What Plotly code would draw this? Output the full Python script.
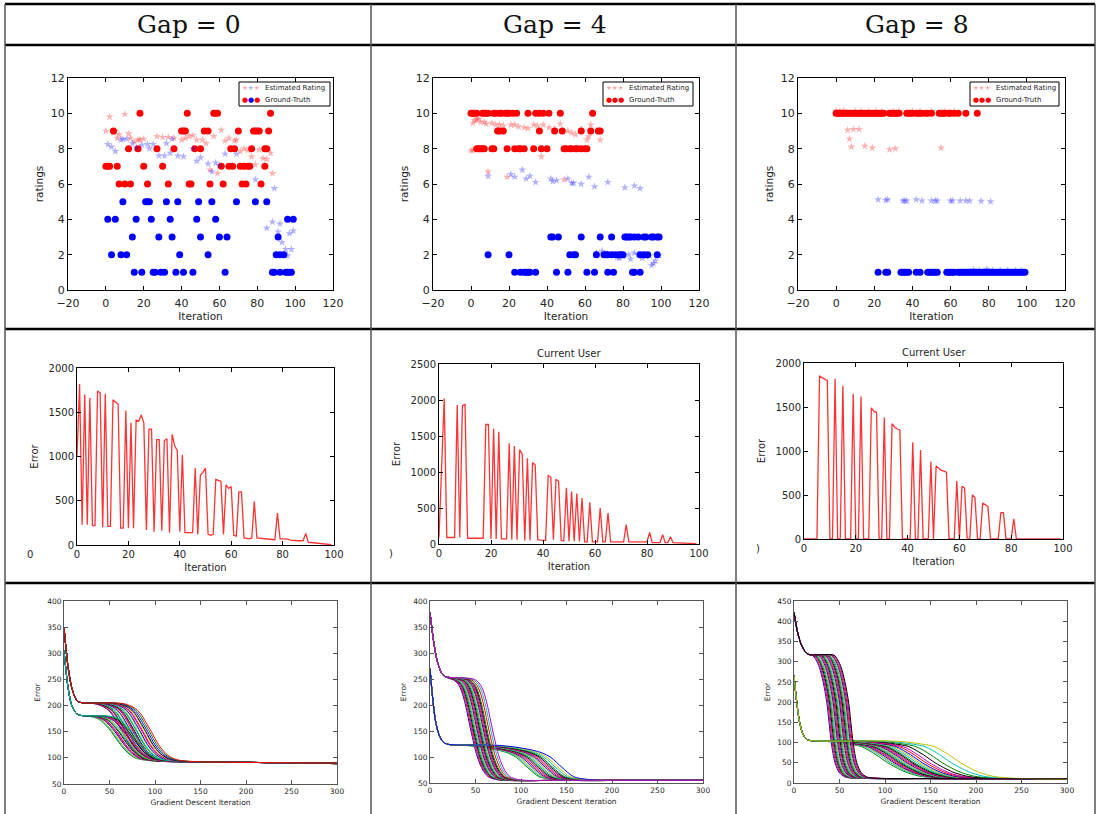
import plotly.graph_objects as go

W, H = 1097, 814

# ---------------- header ----------------
headers = ["Gap = 0", "Gap = 4", "Gap = 8"]

# ---------------- row 1 : ratings scatter ----------------
# ground truth, grouped by rating value -> iteration numbers
gt_hi_g0 = {7: [0, 1, 2, 6, 20, 30, 61, 65, 67, 71, 73, 75, 76, 84],
            8: [12, 17, 27, 36, 47, 50, 66, 68, 77, 84, 85],
            9: [4, 40, 41, 42, 52, 54, 70, 78, 79, 80, 81, 86],
            10: [18, 43, 57, 58, 59, 87],
            6: [7, 10, 13, 22, 33, 44, 45, 55, 62, 72, 74, 82]}
gt_lo_g0 = {5: [9, 21, 22, 23, 32, 38, 49, 56, 69, 79, 85],
            4: [1, 5, 16, 24, 34, 48, 58, 96, 99],
            3: [14, 28, 35, 50, 60, 64, 91],
            2: [3, 8, 11, 39, 54, 90, 92, 94],
            1: [15, 19, 25, 26, 29, 31, 37, 41, 46, 63, 88, 89, 92, 95, 96, 97, 98]}
est_hi_g0 = [(0, 9.0), (2, 9.8), (5, 9.0), (7, 8.8), (10, 9.95), (12, 8.85), (13, 8.6), (17, 8.5),
             (18, 8.5), (20, 8.55), (27, 8.7), (30, 8.65), (33, 8.65), (36, 8.6), (40, 8.5), (42, 8.6),
             (44, 8.7), (46, 8.75), (48, 8.5), (51, 8.5), (53, 8.3), (55, 6.8), (57, 8.7), (59, 6.6),
             (61, 9.05), (63, 8.45), (65, 8.6), (68, 8.45), (69, 8.5), (71, 7.85), (73, 8.0), (75, 7.9),
             (77, 7.55), (79, 7.1), (81, 7.95), (83, 7.45), (85, 7.4), (87, 7.75), (88, 6.6),
             (4, 8.9), (6, 8.6), (15, 8.4)]
est_lo_g0 = [(1, 8.25), (3, 8.1), (5, 7.85), (8, 8.5), (9, 8.55), (11, 8.55), (14, 8.3), (16, 8.05),
             (19, 8.2), (22, 8.25), (23, 8.0), (25, 8.25), (28, 7.6), (31, 7.6), (32, 8.3), (34, 7.75),
             (35, 8.55), (38, 7.6), (41, 7.55), (46, 8.0), (48, 7.3), (50, 7.5), (54, 7.15), (56, 6.7),
             (58, 7.2), (60, 7.05), (63, 7.7), (69, 7.7), (79, 6.25), (85, 3.5), (88, 3.85), (89, 5.75),
             (91, 3.3), (92, 3.75), (93, 2.7), (95, 2.3), (96, 1.95), (97, 3.2), (98, 2.3), (99, 3.35)]

gt_hi_g4 = {10: [0, 1, 2, 3, 6, 7, 8, 9, 12, 13, 15, 16, 18, 19, 20, 22, 24, 30, 34, 36, 38, 41, 47, 64],
            9: [14, 15, 17, 36, 44, 48, 58, 63, 67, 68],
            8: [3, 4, 5, 6, 7, 11, 12, 19, 23, 25, 26, 28, 33, 37, 40, 49, 50, 52, 53, 55, 56, 58, 60, 61]}
gt_lo_g4 = {3: [42, 43, 46, 58, 68, 74, 81, 82, 83, 84, 86, 88, 91, 92, 95, 96, 98, 99],
            2: [9, 20, 52, 54, 55, 66, 70, 71, 72, 74, 76, 78, 79, 80, 89, 91, 93, 98],
            1: [23, 26, 28, 29, 30, 31, 34, 45, 51, 61, 65, 72, 75, 85, 86, 89]}
est_hi_g4 = [(0, 7.9), (1, 7.9), (1, 9.45), (3, 9.65), (4, 9.7), (5, 9.5), (8, 9.4), (9, 6.7),
             (11, 9.45), (13, 9.35), (15, 9.35), (17, 9.3), (19, 6.4), (21, 9.35), (23, 9.35), (25, 9.25),
             (28, 9.2), (30, 9.15), (33, 9.35), (35, 9.3), (37, 7.55), (38, 9.35), (41, 9.2), (44, 9.1),
             (47, 9.4), (49, 6.25), (51, 9.0), (53, 8.9), (55, 8.8), (58, 9.1), (61, 8.5), (62, 8.7),
             (63, 9.35), (68, 8.5), (2, 9.6), (7, 9.5)]
est_lo_g4 = [(9, 6.45), (21, 6.55), (23, 6.4), (27, 6.8), (29, 6.3), (31, 6.45), (34, 6.1), (42, 6.3),
             (43, 6.15), (45, 6.2), (51, 6.3), (53, 6.05), (54, 6.05), (58, 6.0), (62, 6.4), (65, 5.85),
             (72, 6.1), (81, 5.8), (86, 5.9), (89, 5.75),
             (66, 2.1), (69, 2.2), (72, 2.05), (75, 2.0), (77, 1.85), (78, 1.8), (80, 1.9), (83, 2.0),
             (84, 1.75), (86, 2.1), (88, 2.0), (90, 1.8), (92, 1.9), (94, 1.95), (95, 1.4), (96, 1.5),
             (97, 1.65), (99, 1.95)]

gt_hi_g8 = {10: [0, 1, 2, 3, 4, 5, 6, 7, 8, 9, 10, 11, 12, 13, 14, 15, 16, 17, 18, 19, 20, 21, 22, 23,
                 24, 25, 28, 29, 30, 31, 32, 33, 37, 38, 39, 40, 42, 43, 44, 45, 47, 48, 50,
                 54, 55, 56, 57, 59, 60, 62, 64, 68, 74]}
gt_lo_g8 = {1: [22, 26, 27, 34, 35, 36, 37, 38, 42, 44, 48, 49, 50, 51, 52, 53, 58, 59, 60, 61, 62,
                64, 65, 66, 67, 68, 69, 70, 71, 72, 73, 74, 75, 76, 77, 78, 79, 80, 81, 82, 83, 84,
                85, 86, 87, 88, 89, 90, 91, 92, 93, 94, 95, 96, 97, 98, 99]}
est_hi_g8 = [(0, 10.15), (2, 10.12), (4, 10.15), (10, 10.1), (13, 10.12), (17, 10.1), (21, 10.12),
             (24, 10.1), (30, 10.1), (33, 10.12), (40, 10.1), (44, 10.1), (50, 10.1), (57, 10.1),
             (62, 10.1), (6, 9.05), (7, 8.55), (8, 8.1), (9, 9.1), (12, 9.1), (15, 8.15), (19, 8.05),
             (28, 7.95), (31, 8.0), (55, 8.05)]
est_lo_g8 = [(22, 5.12), (26, 5.08), (27, 5.12), (35, 5.05), (36, 5.05), (37, 5.05), (42, 5.12),
             (45, 5.05), (50, 5.05), (52, 5.05), (53, 5.05), (60, 5.05), (61, 5.05), (65, 5.05),
             (68, 5.05), (70, 5.05), (76, 5.03), (81, 5.0),
             (72, 1.15), (75, 1.1), (79, 1.18), (82, 1.12), (86, 1.1), (90, 1.12), (94, 1.1), (97, 1.1)]

# ---------------- row 2 : error per iteration ----------------
iterations = list(range(100))
err_g0 = [1000, 1820, 230, 1700, 230, 1660, 220, 220, 1740, 1720,
          200, 1710, 210, 210, 1640, 1620, 1590, 190, 190, 1520,
          190, 1380, 190, 1410, 1400, 1470, 1380, 170, 1310, 1310,
          150, 1190, 1190, 160, 1180, 1200, 140, 1250, 1120, 1070,
          150, 1020, 140, 140, 140, 140, 870, 120, 790, 820,
          870, 120, 110, 120, 740, 730, 720, 120, 680, 640,
          660, 110, 100, 600, 600, 80, 75, 70, 80, 490,
          80, 75, 72, 70, 68, 65, 62, 60, 360, 70,
          70, 68, 66, 55, 50, 50, 48, 48, 50, 130,
          30, 28, 25, 22, 20, 18, 15, 12, 8, 3]
err_g4 = [90, 1200, 2020, 90, 90, 90, 90, 1930, 90, 1920,
          1940, 80, 80, 80, 80, 80, 80, 80, 1660, 1660,
          70, 1600, 70, 1560, 70, 70, 70, 1400, 60, 1360,
          60, 1310, 1250, 50, 1190, 50, 1130, 1100, 60, 55,
          55, 50, 950, 930, 60, 900, 870, 50, 45, 780,
          40, 730, 40, 700, 40, 640, 30, 30, 580, 30,
          30, 30, 500, 30, 30, 430, 30, 30, 30, 30,
          30, 30, 270, 30, 30, 30, 30, 30, 30, 30,
          30, 160, 20, 20, 20, 20, 130, 20, 20, 100,
          20, 18, 16, 14, 12, 10, 9, 8, 6, 5]
err_g8 = [0, 0, 0, 0, 0, 0, 1850, 1830, 1815, 1800,
          0, 0, 1820, 0, 0, 1740, 0, 0, 0, 1650,
          0, 0, 1620, 0, 0, 0, 1490, 1450, 1440, 0,
          0, 1380, 0, 0, 1310, 1270, 1250, 1240, 0, 0,
          0, 0, 1100, 0, 0, 1010, 0, 0, 0, 880,
          0, 830, 800, 780, 770, 760, 0, 0, 0, 660,
          0, 600, 580, 0, 0, 500, 470, 0, 0, 410,
          390, 370, 0, 0, 0, 0, 300, 300, 0, 0,
          0, 230, 0, 0, 0, 0, 0, 0, 0, 0,
          0, 0, 0, 0, 0, 0, 0, 0, 0, 0]

# ---------------- row 3 : gradient-descent curves ----------------
# each family: fixed head knots, body knots (earliest curve) that are delayed per curve, fixed tail
gd_g0_up_head = [(0, 350), (4, 280), (8, 238), (12, 216), (16, 207)]
gd_g0_up_body = [(25, 205), (35, 203), (45, 196), (52, 185), (58, 168), (64, 150), (72, 125),
                 (80, 108), (88, 99), (96, 95), (110, 93)]
gd_g0_up_tail = [(160, 92), (220, 91), (300, 90)]
gd_g0_up_delay = [0, 1, 3, 4, 6, 7, 9, 10, 12, 13, 14, 16, 17, 19, 20, 22, 23, 25, 26, 28, 30, 32]
gd_g0_lo_head = [(0, 306), (4, 240), (8, 203), (12, 188), (16, 182)]
gd_g0_lo_body = [(25, 180), (32, 178), (40, 172), (46, 162), (52, 150), (60, 130), (68, 113),
                 (78, 100), (88, 96), (100, 94)]
gd_g0_lo_tail = [(160, 92), (220, 91), (300, 89)]
gd_g0_lo_delay = [0, 1, 2, 4, 5, 6, 8, 9, 11, 12, 14, 15, 17, 19, 21, 23]

gd_g4_up_head = [(0, 378), (4, 322), (8, 284), (12, 264), (16, 255)]
gd_g4_up_body = [(21, 251), (26, 248), (31, 240), (35, 225), (39, 200), (45, 150), (52, 100),
                 (58, 75), (64, 62), (72, 57), (82, 55)]
gd_g4_up_tail = [(140, 55), (220, 55), (300, 55)]
gd_g4_up_delay = [0, 1, 2, 3, 4, 5, 6, 7, 8, 9, 10, 11, 12, 13, 14, 15, 16, 17, 18, 20, 22, 24]
gd_g4_lo_head = [(0, 270), (3, 212), (6, 170), (10, 142), (14, 130), (18, 125)]
gd_g4_lo_body = [(25, 123), (40, 122), (60, 118), (75, 113), (85, 108), (95, 99), (107, 80),
                 (120, 62), (135, 57), (150, 55)]
gd_g4_lo_tail = [(220, 55), (300, 55)]
gd_g4_lo_delay = [0, 2, 4, 6, 8, 10, 12, 14, 16, 18, 20, 22, 24, 26, 28, 31, 34, 38]

gd_g8_up_head = [(0, 422), (4, 372), (8, 342), (12, 326), (16, 318)]
gd_g8_up_body = [(20, 316), (24, 305), (28, 285), (32, 250), (36, 200), (41, 100), (45, 50),
                 (50, 25), (56, 15), (65, 12)]
gd_g8_up_tail = [(150, 11), (300, 10)]
gd_g8_up_delay = [0, 1, 2, 3, 4, 5, 6, 7, 8, 9, 10, 11, 12, 13, 14, 15, 16, 17, 18, 19, 20, 21, 22, 23, 24]
gd_g8_lo_head = [(0, 265), (3, 200), (6, 152), (10, 120), (14, 108), (18, 105)]
gd_g8_lo_body = [(24, 104), (40, 102), (55, 98), (74, 90), (90, 70), (103, 50), (115, 35),
                 (125, 25), (140, 16), (160, 12), (180, 11)]
gd_g8_lo_tail = [(270, 10), (300, 9)]
gd_g8_lo_delay = [0, 3, 5, 7, 9, 11, 13, 15, 17, 19, 21, 23, 25, 27, 29, 32, 35, 38, 42, 46, 52, 60, 70, 80]

mpl_cycle = ["#0000ff", "#008000", "#ff0000", "#00bfbf", "#bf00bf", "#bfbf00", "#000000"]

# ---------------- geometry (pixels) ----------------
AX = {1: (68, 333, 78, 290), 2: (433, 699, 78, 290), 3: (798, 1065, 78, 290),
      4: (77, 334, 368, 545), 5: (439, 699, 364, 544), 6: (804, 1063, 363, 539),
      7: (64, 337, 601, 784), 8: (430, 703, 601, 783), 9: (794, 1067, 601, 783)}
LEG = {1: (239, 82, 330, 106), 2: (603, 82, 693, 106), 3: (970, 82, 1059, 106)}

TXT = "#262626"


def px(x):
    return x / W


def py(y):
    return 1 - y / H


def xa(i):
    return "x" if i == 1 else f"x{i}"


def ya(i):
    return "y" if i == 1 else f"y{i}"


def flat(groups):
    xs, ys = [], []
    for v, lst in groups.items():
        xs += lst
        ys += [v] * len(lst)
    return xs, ys


fig = go.Figure()

# ---- row 1 traces ----
row1 = [(gt_hi_g0, gt_lo_g0, est_hi_g0, est_lo_g0),
        (gt_hi_g4, gt_lo_g4, est_hi_g4, est_lo_g4),
        (gt_hi_g8, gt_lo_g8, est_hi_g8, est_lo_g8)]
for k, (ghi, glo, ehi, elo) in enumerate(row1):
    i = k + 1
    for grp, col in ((ghi, "#ff0000"), (glo, "#0000ff")):
        gx, gy = flat(grp)
        fig.add_trace(go.Scatter(x=gx, y=gy, xaxis=xa(i), yaxis=ya(i), mode="markers",
                                 marker=dict(symbol="circle", size=7, color=col, line=dict(width=0)),
                                 showlegend=False, hoverinfo="skip"))
    for pts, col in ((ehi, "rgba(255,0,0,0.3)"), (elo, "rgba(0,0,255,0.3)")):
        fig.add_trace(go.Scatter(x=[p[0] for p in pts], y=[p[1] for p in pts], xaxis=xa(i), yaxis=ya(i),
                                 mode="markers",
                                 marker=dict(symbol="star", size=6, color=col, line=dict(width=0)),
                                 showlegend=False, hoverinfo="skip"))

# ---- row 2 traces ----
for k, err in enumerate([err_g0, err_g4, err_g8]):
    i = k + 4
    fig.add_trace(go.Scatter(x=iterations, y=err, xaxis=xa(i), yaxis=ya(i), mode="lines",
                             line=dict(color="rgba(255,0,0,0.8)", width=1.3),
                             showlegend=False, hoverinfo="skip"))

# ---- row 3 traces ----
row3 = [((gd_g0_up_head, gd_g0_up_body, gd_g0_up_tail, gd_g0_up_delay),
         (gd_g0_lo_head, gd_g0_lo_body, gd_g0_lo_tail, gd_g0_lo_delay)),
        ((gd_g4_up_head, gd_g4_up_body, gd_g4_up_tail, gd_g4_up_delay),
         (gd_g4_lo_head, gd_g4_lo_body, gd_g4_lo_tail, gd_g4_lo_delay)),
        ((gd_g8_up_head, gd_g8_up_body, gd_g8_up_tail, gd_g8_up_delay),
         (gd_g8_lo_head, gd_g8_lo_body, gd_g8_lo_tail, gd_g8_lo_delay))]


def curve(head, body, tail, d):
    pts = list(head) + [(x + d, y) for x, y in body] + list(tail)
    return [p[0] for p in pts], [p[1] for p in pts]


for k, (up, lo) in enumerate(row3):
    i = k + 7
    n = max(len(up[3]), len(lo[3]))
    c = 0
    for j in range(n):
        for fam in (up, lo):
            if j < len(fam[3]):
                cx, cy = curve(fam[0], fam[1], fam[2], fam[3][j])
                fig.add_trace(go.Scatter(x=cx, y=cy, xaxis=xa(i), yaxis=ya(i), mode="lines",
                                         line=dict(color=mpl_cycle[c % 7], width=1, shape="spline",
                                                   smoothing=0.8),
                                         showlegend=False, hoverinfo="skip"))
                c += 1

# ---------------- axes ----------------
layout = {}
axis_spec = {
    1: dict(xr=[-20, 120], xd=20, yr=[0, 12], yd=2, xt="Iteration", yt="ratings"),
    2: dict(xr=[-20, 120], xd=20, yr=[0, 12], yd=2, xt="Iteration", yt="ratings"),
    3: dict(xr=[-20, 120], xd=20, yr=[0, 12], yd=2, xt="Iteration", yt="ratings"),
    4: dict(xr=[0, 100], xd=20, yr=[0, 2000], yd=500, xt="Iteration", yt="Error"),
    5: dict(xr=[0, 100], xd=20, yr=[0, 2500], yd=500, xt="Iteration", yt="Error"),
    6: dict(xr=[0, 100], xd=20, yr=[0, 2000], yd=500, xt="Iteration", yt="Error"),
    7: dict(xr=[0, 300], xd=50, yr=[50, 400], yd=50, xt="Gradient Descent Iteration", yt="Error"),
    8: dict(xr=[0, 300], xd=50, yr=[50, 400], yd=50, xt="Gradient Descent Iteration", yt="Error"),
    9: dict(xr=[0, 300], xd=50, yr=[0, 450], yd=50, xt="Gradient Descent Iteration", yt="Error"),
}
for i, (x0, x1, y0, y1) in AX.items():
    sp = axis_spec[i]
    if i <= 3:
        tf, ttf, lc, xs, ys, xls = 11, 10.5, "#000000", 0, 5, 3
    elif i <= 6:
        tf, ttf, lc, xs, ys, xls = 10, 10, "#000000", 4, 8, 0
    else:
        tf, ttf, lc, xs, ys, xls = 7.5, 7.5, "#555555", 4, 5, 0
    common = dict(showline=True, linecolor=lc, linewidth=1, mirror="ticks", ticks="inside",
                  ticklen=4, tickwidth=1, tickcolor=lc, showgrid=False, zeroline=False,
                  automargin=False,
                  tickfont=dict(size=tf, color=TXT, family="DejaVu Sans"), fixedrange=True)
    sfx = "" if i == 1 else str(i)
    layout["xaxis" + sfx] = dict(domain=[px(x0), px(x1)], anchor=ya(i), range=sp["xr"], dtick=sp["xd"],
                                 tick0=0, ticklabelstandoff=xls,
                                 title=dict(text=sp["xt"], standoff=xs,
                                            font=dict(size=ttf, color=TXT, family="DejaVu Sans")),
                                 **common)
    layout["yaxis" + sfx] = dict(domain=[py(y1), py(y0)], anchor=xa(i), range=sp["yr"], dtick=sp["yd"],
                                 tick0=0,
                                 title=dict(text=sp["yt"], standoff=ys,
                                            font=dict(size=ttf, color=TXT, family="DejaVu Sans")),
                                 **common)

# ---------------- table lines ----------------
shapes = []
for yy in (4, 45, 329, 583):
    shapes.append(dict(type="line", xref="paper", yref="paper", x0=px(5), x1=px(1095),
                       y0=py(yy), y1=py(yy), line=dict(color="#000000", width=2.5)))
for xx in (5, 371, 736, 1095):
    shapes.append(dict(type="line", xref="paper", yref="paper", x0=px(xx), x1=px(xx),
                       y0=py(4), y1=py(814), line=dict(color="#555555", width=1.5)))

annotations = []
for k, h in enumerate(headers):
    cx = [(5 + 371) / 2, (371 + 736) / 2, (736 + 1095) / 2][k]
    annotations.append(dict(text=h, xref="paper", yref="paper", x=px(cx + 1), y=py(24),
                            xanchor="center", yanchor="middle", showarrow=False,
                            font=dict(family="DejaVu Serif", size=25, color="#111111")))

# ---------------- row-1 legends (drawn as boxes with text) ----------------
star_rows = {1: ["rgba(255,0,0,0.35)", "rgba(0,0,255,0.35)", "rgba(255,0,0,0.35)"],
             2: ["rgba(255,0,0,0.35)"] * 3, 3: ["rgba(255,0,0,0.35)"] * 3}
dot_rows = {1: ["#ff0000", "#0000ff", "#ff0000"], 2: ["#ff0000"] * 3, 3: ["#ff0000"] * 3}
for i, (bx0, by0, bx1, by1) in LEG.items():
    shapes.append(dict(type="rect", xref="paper", yref="paper", x0=px(bx0), x1=px(bx1),
                       y0=py(by1), y1=py(by0), line=dict(color="#000000", width=1),
                       fillcolor="white", layer="above"))
    stars = "".join(f'<span style="color:{c}">★</span>' for c in star_rows[i])
    dots = "".join(f'<span style="color:{c}">●</span>' for c in dot_rows[i])
    annotations.append(dict(text=stars, xref="paper", yref="paper", x=px(bx0 + 1), y=py(by0 + 6.5),
                            xanchor="left", yanchor="middle", showarrow=False,
                            font=dict(size=6.5, family="DejaVu Sans")))
    annotations.append(dict(text=dots, xref="paper", yref="paper", x=px(bx0 + 1), y=py(by0 + 17.5),
                            xanchor="left", yanchor="middle", showarrow=False,
                            font=dict(size=7, family="DejaVu Sans")))
    annotations.append(dict(text="Estimated Rating", xref="paper", yref="paper", x=px(bx0 + 24),
                            y=py(by0 + 6.5), xanchor="left", yanchor="middle", showarrow=False,
                            font=dict(size=7, color=TXT, family="DejaVu Sans")))
    annotations.append(dict(text="Ground-Truth", xref="paper", yref="paper", x=px(bx0 + 24),
                            y=py(by0 + 17.5), xanchor="left", yanchor="middle", showarrow=False,
                            font=dict(size=7, color=TXT, family="DejaVu Sans")))

# ---------------- row-2 titles and stray marks ----------------
for i in (5, 6):
    x0, x1, y0, y1 = AX[i]
    annotations.append(dict(text="Current User", xref="paper", yref="paper", x=px((x0 + x1) / 2),
                            y=py(y0 - 3), xanchor="center", yanchor="bottom", showarrow=False,
                            font=dict(size=10, color=TXT, family="DejaVu Sans")))
for (sx, sy, st) in ((30, 554, "0"), (391, 553, ")"), (758, 548, ")")):
    annotations.append(dict(text=st, xref="paper", yref="paper", x=px(sx), y=py(sy),
                            xanchor="center", yanchor="middle", showarrow=False,
                            font=dict(size=10, color=TXT, family="DejaVu Sans")))

fig.update_layout(width=W, height=H, autosize=False, margin=dict(l=0, r=0, t=0, b=0, pad=0),
                  paper_bgcolor="white", plot_bgcolor="white", showlegend=False,
                  shapes=shapes, annotations=annotations, **layout)

fig.write_html("out.html", config={"displayModeBar": False},
               post_script="document.body.style.margin='0';")
